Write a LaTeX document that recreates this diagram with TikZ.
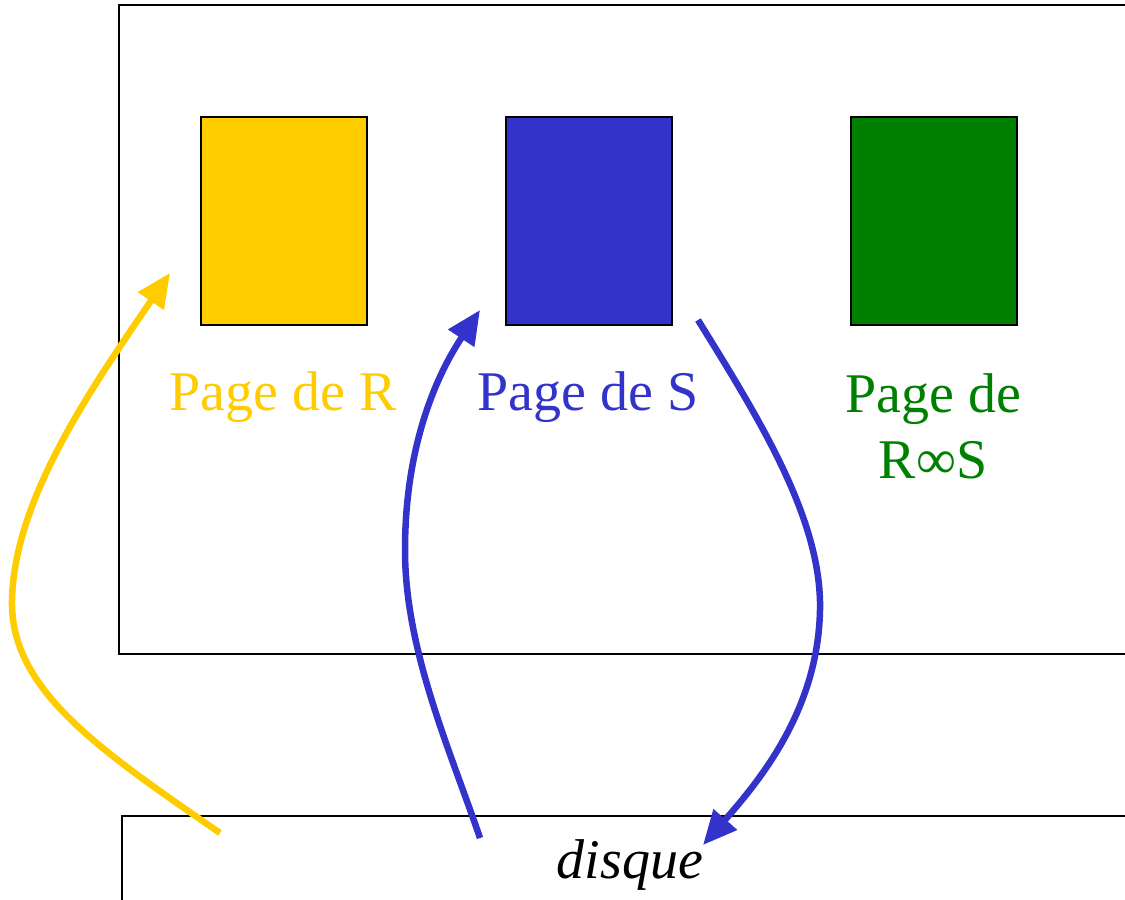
\documentclass[tikz,border=0pt]{standalone}
\usepackage{fontspec}
\setmainfont{Liberation Serif}
\usetikzlibrary{arrows.meta}
\definecolor{cyel}{HTML}{FFCC00}
\definecolor{cblu}{HTML}{3333CC}
\definecolor{cgrn}{HTML}{008000}
\begin{document}
\begin{tikzpicture}[x=1pt,y=-1pt,
  frame/.style={draw=black,line width=1.6pt},
  pagebox/.style={draw=black,line width=1.6pt,minimum width=166pt,minimum height=208pt,inner sep=0pt,anchor=north west},
  lbl/.style={font=\fontsize{56}{66}\selectfont,inner sep=0pt,anchor=base},
  flow/.style={line width=6.5pt,-{Triangle[length=34pt,width=30pt]}}
]
\useasboundingbox (0,0) rectangle (1125,900);
\begin{scope}
\clip (0,0) rectangle (1125,900);
\draw[frame] (119,5) rectangle (1140,654);
\draw[frame] (122,816) rectangle (1140,910);
\end{scope}
\node[pagebox,fill=cyel] (pr) at (200,116) {};
\node[pagebox,fill=cblu] (ps) at (505,116) {};
\node[pagebox,fill=cgrn] (prs) at (850,116) {};
\node[lbl,text=cyel] (lr) at (283,410) {Page de R};
\node[lbl,text=cblu] (ls) at (588,410) {Page de S};
\node[lbl,text=cgrn] (lrs1) at (933,412) {Page de};
\node[lbl,text=cgrn] (lrs2) at (933,478) {R∞S};
\node[lbl,font=\fontsize{56}{66}\selectfont\itshape] (dq) at (630,878) {disque};
\coordinate (y0) at (220,833);
\coordinate (y1) at (170,273);
\coordinate (b0) at (480,838);
\coordinate (b1) at (480,310);
\coordinate (c0) at (698,320);
\coordinate (c1) at (703,845);
\draw[flow,cyel] (y0) .. controls (100,750) and (10,690) .. (12,600) .. controls (14,500) and (90,390) .. (y1);
\draw[flow,cblu] (b0) .. controls (450,750) and (405,650) .. (405,550) .. controls (405,440) and (440,370) .. (b1);
\draw[flow,cblu] (c0) .. controls (760,420) and (822,520) .. (820,610) .. controls (818,710) and (760,780) .. (c1);
\end{tikzpicture}
\end{document}
